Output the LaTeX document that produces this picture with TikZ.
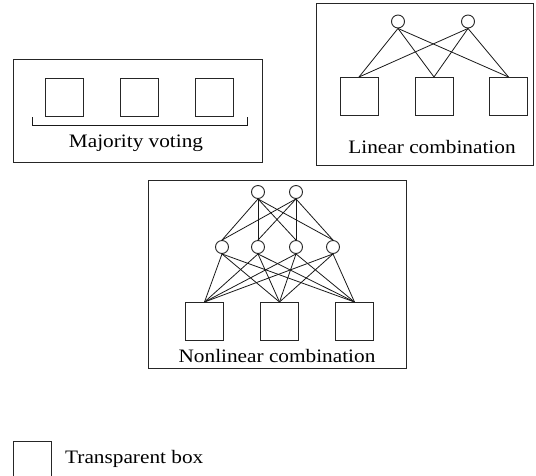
\documentclass[tikz,border=0pt]{standalone}
\usepackage{fontspec}
\setmainfont[FakeStretch=1.12]{Liberation Serif}
\begin{document}
\begin{tikzpicture}[x=1pt,y=-1pt,
  frame/.style={draw=black!85,line width=1pt},
  sq/.style={draw=black!85,line width=1pt,minimum size=38pt,inner sep=0pt,rectangle},
  nd/.style={draw=black!85,line width=0.9pt,circle,minimum size=13pt,inner sep=0pt},
  ln/.style={draw=black!90,line width=0.8pt},
  lbl/.style={anchor=base,inner sep=0pt,font=\fontsize{19pt}{22pt}\selectfont}]
\useasboundingbox (0,0) rectangle (536,475);
\clip (0,0) rectangle (536,475);
% Majority voting
\draw[frame] (13,59) rectangle (262,162);
\node[sq] (m1) at (64,97) {};
\node[sq] (m2) at (139,97) {};
\node[sq] (m3) at (214,97) {};
\coordinate (b1) at (32,117);
\coordinate (b2) at (32,125);
\coordinate (b3) at (247,125);
\coordinate (b4) at (247,117);
\draw[ln] (b1) -- (b2) -- (b3) -- (b4);
\node[lbl] (mt) at (136,147) {Majority voting};
% Linear combination
\draw[frame] (316,3) rectangle (533,165);
\node[nd] (lc1) at (398,21.5) {};
\node[nd] (lc2) at (468,21.5) {};
\node[sq] (l1) at (359,96.5) {};
\node[sq] (l2) at (434,96.5) {};
\node[sq] (l3) at (508.5,96.5) {};
\foreach \c in {lc1,lc2}{\foreach \s in {l1,l2,l3}{\draw[ln] (\c.south) -- (\s.north);}}
\node[lbl] (lt) at (432,153) {Linear combination};
% Nonlinear combination
\draw[frame] (148,180) rectangle (406,368);
\node[nd] (t1) at (258,192) {};
\node[nd] (t2) at (296,192) {};
\node[nd] (h1) at (222,247) {};
\node[nd] (h2) at (258,247) {};
\node[nd] (h3) at (296,247) {};
\node[nd] (h4) at (333,247) {};
\node[sq] (n1) at (204.5,321.5) {};
\node[sq] (n2) at (279.5,321.5) {};
\node[sq] (n3) at (354.5,321.5) {};
\foreach \c in {t1,t2}{\foreach \h in {h1,h2,h3,h4}{\draw[ln] (\c.south) -- (\h.north);}}
\foreach \h in {h1,h2,h3,h4}{\foreach \s in {n1,n2,n3}{\draw[ln] (\h.south) -- (\s.north);}}
\node[lbl] (nt) at (277,362) {Nonlinear combination};
% Legend
\node[sq] (lg) at (32,460) {};
\node[lbl,anchor=base west] (lgt) at (65,463) {Transparent box};
\end{tikzpicture}
\end{document}
